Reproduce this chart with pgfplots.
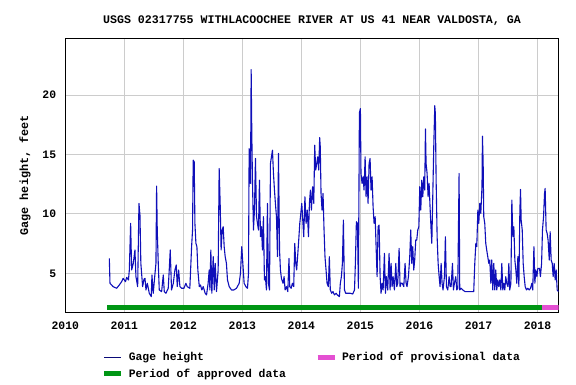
\documentclass[border=0pt]{standalone}
\usepackage{fontspec}
\setmainfont{Liberation Mono}
\usepackage{pgfplots}
\pgfplotsset{compat=1.18}
\definecolor{gage}{RGB}{15,15,185}
\definecolor{gagelegend}{RGB}{10,10,120}
\definecolor{approved}{RGB}{0,150,20}
\definecolor{provisional}{RGB}{228,80,210}
\definecolor{gridgray}{RGB}{204,204,204}
\begin{document}
\begin{tikzpicture}[x=1pt,y=1pt]
\path[use as bounding box] (0,0) rectangle (576,384);
\begin{axis}[
  at={(65.3pt,71.7pt)}, anchor=south west,
  width=493.4pt, height=274pt, scale only axis,
  xmin=2010, xmax=2018.36, ymin=1.72, ymax=24.77,
  xtick={2010,2011,2012,2013,2014,2015,2016,2017,2018},
  ytick={5,10,15,20},
  xticklabel style={/pgf/number format/1000 sep=, anchor=center, yshift=-13pt, inner sep=0pt},
  yticklabel style={anchor=east, inner sep=0pt, xshift=-9pt},
  /pgf/number format/assume math mode=true,
  tick label style={font=\fontsize{11.4}{13}\selectfont\bfseries},
  major tick length=0pt,
  grid=major,
  major grid style={color=gridgray, line width=0.9pt},
  axis line style={line width=1.1pt},
  title={USGS 02317755 WITHLACOOCHEE RIVER AT US 41 NEAR VALDOSTA, GA},
  title style={at={(axis description cs:0.5,1)}, anchor=base, yshift=9pt, font=\fontsize{11.6}{13}\selectfont\bfseries},
  ylabel={Gage height, feet},
  ylabel style={at={(axis description cs:-0.0817,0.5)}, anchor=center, font=\fontsize{11.8}{13}\selectfont\bfseries},
  legend columns=2,
  legend cell align=left,
  legend style={at={(axis description cs:0.0735,-0.138)}, anchor=north west, draw=none, fill=none, inner sep=0pt,
    font=\fontsize{11.4}{13}\selectfont\bfseries,
    /tikz/every even column/.append style={column sep=27pt},
    row sep=2.5pt},
  legend image code/.code={\draw[#1] (0pt,0pt) -- (17pt,0pt); \path (20pt,0pt);},
]
\addplot[color=gage, line width=1.1pt, line join=round, forget plot] coordinates {
(2010.746,6.26) (2010.757,4.16) (2010.81,3.88) (2010.87,3.74) (2010.915,4.02) (2010.955,4.3)
(2010.98,4.58) (2011.02,4.3) (2011.04,4.66) (2011.07,4.44) (2011.085,5.28) (2011.107,9.2)
(2011.124,5.28) (2011.152,5.84) (2011.18,6.96) (2011.197,4.72) (2011.226,3.88) (2011.248,10.88)
(2011.265,9.9) (2011.28,5.84) (2011.31,3.88) (2011.333,4.5) (2011.35,4.58) (2011.367,3.6)
(2011.39,4.16) (2011.423,3.32) (2011.457,3.04) (2011.468,4.86) (2011.49,3.32) (2011.52,5.0)
(2011.536,5.84) (2011.547,12.34) (2011.558,8.64) (2011.575,5.84) (2011.592,3.6) (2011.632,3.46)
(2011.66,4.86) (2011.677,3.46) (2011.705,3.32) (2011.744,3.74) (2011.761,5.28) (2011.778,6.96)
(2011.8,3.6) (2011.83,4.16) (2011.857,5.28) (2011.88,5.7) (2011.897,3.88) (2011.92,5.28)
(2011.942,3.88) (2011.97,3.74) (2012.01,3.74) (2012.043,4.16) (2012.066,3.88) (2012.11,3.74)
(2012.14,7.24) (2012.156,8.64) (2012.167,14.52) (2012.184,14.38) (2012.196,9.2) (2012.213,7.52)
(2012.23,7.24) (2012.246,5.28) (2012.27,3.88) (2012.29,4.02) (2012.314,3.6) (2012.337,3.88)
(2012.37,3.32) (2012.393,3.18) (2012.42,4.16) (2012.438,5.28) (2012.45,3.6) (2012.466,6.96)
(2012.483,3.32) (2012.506,6.4) (2012.523,3.6) (2012.54,5.84) (2012.562,3.46) (2012.59,5.28)
(2012.607,13.82) (2012.624,10.88) (2012.64,6.96) (2012.658,8.64) (2012.675,8.92) (2012.692,7.24)
(2012.709,6.4) (2012.73,5.84) (2012.748,4.44) (2012.777,3.88) (2012.816,3.6) (2012.856,3.6)
(2012.9,3.74) (2012.946,4.16) (2012.968,5.0) (2012.99,7.24) (2013.008,5.84) (2013.03,4.16)
(2013.06,3.88) (2013.087,3.74) (2013.104,5.0) (2013.115,15.5) (2013.126,14.8) (2013.138,12.56)
(2013.149,22.14) (2013.16,16.76) (2013.171,12.84) (2013.188,8.64) (2013.205,10.32) (2013.222,14.66)
(2013.24,9.76) (2013.256,9.2) (2013.273,8.64) (2013.29,12.84) (2013.307,8.08) (2013.324,8.92)
(2013.34,6.96) (2013.357,9.76) (2013.374,4.44) (2013.39,4.72) (2013.408,3.6) (2013.425,10.88)
(2013.442,4.16) (2013.46,3.6) (2013.476,14.24) (2013.493,14.8) (2013.51,15.36) (2013.527,13.4)
(2013.544,12.0) (2013.56,10.88) (2013.578,9.76) (2013.595,6.4) (2013.612,15.08) (2013.63,6.96)
(2013.645,5.28) (2013.662,4.58) (2013.69,4.16) (2013.707,4.72) (2013.724,3.6) (2013.747,3.88)
(2013.77,3.46) (2013.79,6.26) (2013.803,3.88) (2013.826,3.74) (2013.848,4.16) (2013.87,3.88)
(2013.888,7.52) (2013.905,5.84) (2013.92,5.28) (2013.94,6.68) (2013.955,7.8) (2013.973,9.2)
(2013.99,10.04) (2014.007,10.88) (2014.02,9.76) (2014.04,8.08) (2014.06,11.44) (2014.08,9.2)
(2014.1,10.32) (2014.12,8.08) (2014.136,10.88) (2014.153,12.0) (2014.17,10.32) (2014.19,12.28)
(2014.21,10.88) (2014.226,15.78) (2014.243,13.68) (2014.26,14.24) (2014.277,14.8) (2014.294,13.68)
(2014.31,16.42) (2014.32,15.64) (2014.333,11.72) (2014.35,10.32) (2014.367,11.72) (2014.384,8.64)
(2014.4,6.4) (2014.418,5.28) (2014.435,4.16) (2014.457,3.88) (2014.474,6.4) (2014.49,3.6)
(2014.514,3.32) (2014.536,3.46) (2014.56,3.18) (2014.588,3.32) (2014.61,3.18) (2014.644,3.04)
(2014.66,4.16) (2014.678,4.72) (2014.695,5.84) (2014.712,9.48) (2014.73,3.6) (2014.751,3.32)
(2014.785,3.32) (2014.83,3.32) (2014.87,3.26) (2014.9,3.6) (2014.915,5.84) (2014.932,9.34)
(2014.95,9.2) (2014.966,3.74) (2014.983,18.5) (2015.0,18.86) (2015.01,13.4) (2015.028,12.56)
(2015.045,13.12) (2015.062,12.0) (2015.08,14.8) (2015.096,11.44) (2015.113,13.12) (2015.13,10.88)
(2015.147,14.24) (2015.164,14.66) (2015.18,12.0) (2015.198,13.12) (2015.215,10.6) (2015.232,9.2)
(2015.25,9.76) (2015.266,7.24) (2015.283,4.72) (2015.3,8.92) (2015.317,9.06) (2015.334,4.72)
(2015.35,3.32) (2015.368,4.16) (2015.385,3.6) (2015.407,6.68) (2015.424,3.32) (2015.44,4.72)
(2015.463,3.6) (2015.486,6.68) (2015.503,3.6) (2015.52,5.84) (2015.537,3.88) (2015.554,4.72)
(2015.576,3.6) (2015.6,5.84) (2015.616,3.88) (2015.633,4.16) (2015.656,7.1) (2015.672,3.88)
(2015.69,4.16) (2015.71,4.16) (2015.735,3.88) (2015.757,5.84) (2015.774,4.16) (2015.79,3.88)
(2015.814,4.72) (2015.836,6.4) (2015.853,8.64) (2015.87,5.84) (2015.887,7.24) (2015.904,5.28)
(2015.92,6.12) (2015.938,7.8) (2015.955,7.8) (2015.972,8.64) (2015.99,8.92) (2016.006,12.28)
(2016.023,10.32) (2016.04,12.84) (2016.057,11.44) (2016.074,13.12) (2016.09,12.0) (2016.102,17.15)
(2016.113,14.24) (2016.13,13.4) (2016.147,11.44) (2016.164,12.56) (2016.18,10.6) (2016.198,8.64)
(2016.21,7.52) (2016.226,11.44) (2016.243,15.64) (2016.26,19.1) (2016.27,18.44) (2016.283,12.84)
(2016.3,8.08) (2016.317,5.84) (2016.334,4.72) (2016.35,3.88) (2016.368,5.84) (2016.384,4.16)
(2016.4,3.6) (2016.424,4.72) (2016.44,8.08) (2016.458,3.88) (2016.48,3.6) (2016.503,4.72)
(2016.52,3.88) (2016.537,3.88) (2016.56,5.84) (2016.576,3.6) (2016.593,4.16) (2016.616,4.72)
(2016.633,3.6) (2016.65,3.74) (2016.672,13.4) (2016.683,3.6) (2016.706,3.74) (2016.734,3.6)
(2016.774,3.46) (2016.82,3.46) (2016.875,3.46) (2016.92,3.46) (2016.938,5.84) (2016.956,7.52)
(2016.972,7.24) (2016.99,10.32) (2017.006,9.2) (2017.023,10.88) (2017.04,10.04) (2017.06,12.28)
(2017.068,16.54) (2017.08,14.24) (2017.09,9.76) (2017.107,9.2) (2017.124,7.52) (2017.14,6.96)
(2017.158,6.4) (2017.175,5.84) (2017.192,6.12) (2017.21,4.16) (2017.226,6.12) (2017.243,3.6)
(2017.26,5.84) (2017.277,3.6) (2017.294,5.28) (2017.311,3.6) (2017.328,4.44) (2017.345,3.88)
(2017.362,4.44) (2017.38,3.6) (2017.396,5.84) (2017.413,3.6) (2017.43,4.16) (2017.447,3.6)
(2017.463,4.72) (2017.48,4.16) (2017.5,3.88) (2017.515,5.84) (2017.53,3.6) (2017.55,4.16)
(2017.566,11.16) (2017.583,8.08) (2017.6,8.92) (2017.617,6.12) (2017.634,5.28) (2017.65,4.16)
(2017.668,6.4) (2017.685,3.88) (2017.702,10.32) (2017.713,12.06) (2017.724,9.48) (2017.742,8.64)
(2017.758,5.84) (2017.775,4.72) (2017.792,3.88) (2017.814,3.6) (2017.837,3.74) (2017.86,3.6)
(2017.882,3.74) (2017.905,4.16) (2017.92,3.6) (2017.94,7.24) (2017.956,4.16) (2017.972,5.28)
(2017.99,4.72) (2018.007,5.42) (2018.035,5.42) (2018.05,4.72) (2018.07,5.84) (2018.085,8.64)
(2018.103,9.76) (2018.12,11.72) (2018.13,12.14) (2018.147,8.64) (2018.164,8.36) (2018.18,7.8)
(2018.2,6.12) (2018.215,8.5) (2018.232,6.12) (2018.25,5.84) (2018.266,4.72) (2018.283,5.84)
(2018.3,4.44) (2018.317,5.28) (2018.334,3.6) (2018.357,3.46)
};
\addlegendimage{color=gagelegend, line width=0.9pt}
\addlegendentry{Gage height}
\addplot[color=provisional, line width=5pt] coordinates {(2018.08,2.1) (2018.36,2.1)};
\addlegendentry{Period of provisional data}
\addplot[color=approved, line width=5pt] coordinates {(2010.71,2.1) (2018.08,2.1)};
\addlegendentry{Period of approved data}
\end{axis}
\end{tikzpicture}
\end{document}
